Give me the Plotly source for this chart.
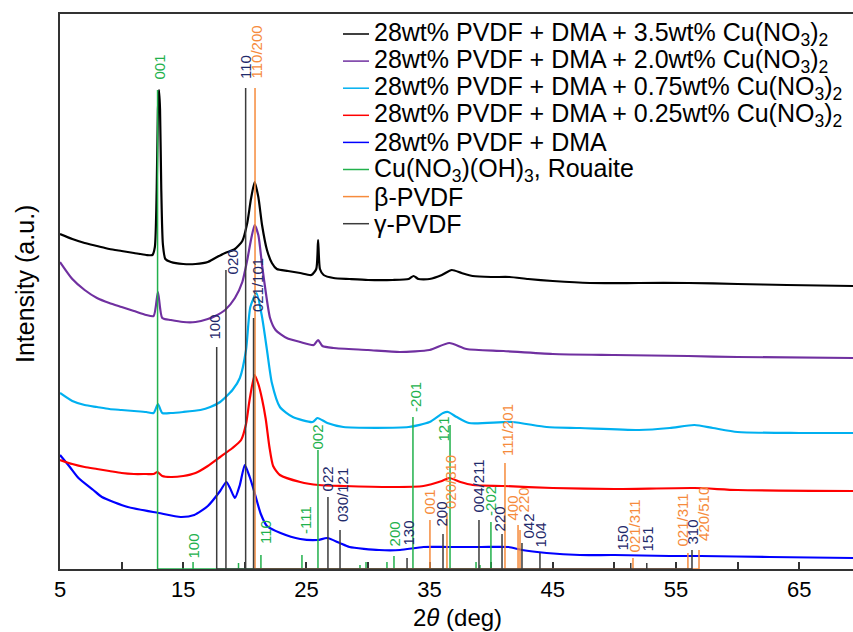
import plotly.graph_objects as go

# ---------------- spectra (2theta in deg, intensity a.u.) ----------------
x_35 = [5.0, 6.0, 7.0, 8.0, 9.0, 10.0, 11.0, 12.0, 12.5, 12.7, 12.85, 12.95, 13.04, 13.12, 13.22, 13.35, 13.55,
        14.0, 15.0, 16.0, 17.0, 17.6, 18.4, 19.2, 19.8, 20.2, 20.5, 20.8, 21.1, 21.4, 21.8, 22.2, 22.6, 23.5,
        24.5, 25.4, 25.8, 25.95, 26.1, 26.4, 27.2, 28.5, 30.0, 32.0, 33.3, 33.7, 34.1, 35.0, 36.0, 36.8, 37.6,
        38.5, 40.0, 41.5, 43.0, 45.0, 48.0, 52.0, 56.0, 60.0, 64.0, 69.4]
y_35 = [335, 330, 326, 323, 320, 318, 316, 314, 314, 322, 380, 460, 479, 460, 380, 325, 310,
        307, 305, 305, 307, 311, 316, 320, 328, 346, 370, 387, 372, 344, 319, 306, 300, 298,
        296, 294, 300, 329, 300, 294, 291, 290, 289, 289, 290, 293, 290, 290, 294, 299, 296,
        293, 292, 292, 290, 288, 286, 286, 286, 285, 284, 283]

x_20 = [5.0, 6.0, 7.0, 8.0, 9.0, 10.0, 11.0, 12.0, 12.6, 12.95, 13.3, 14.0, 15.0, 16.0, 17.0, 17.6, 18.4,
        19.2, 19.8, 20.2, 20.5, 20.8, 21.1, 21.4, 21.7, 22.05, 22.5, 23.4, 24.5, 25.6, 25.95, 26.3, 27.2,
        30.0, 32.6, 35.0, 36.6, 38.0, 41.0, 45.0, 50.0, 56.0, 60.0, 69.4]
y_20 = [307, 290, 279, 271, 266, 262, 258, 254, 253, 277, 251, 249, 247, 247, 250, 253, 259,
        271, 287, 309, 329, 344, 334, 304, 277, 251, 239, 231, 227, 224, 229, 223, 221,
        219, 217, 219, 226, 220, 218, 215, 214, 213, 212, 211]

x_075 = [5.0, 6.0, 7.0, 8.0, 9.0, 10.0, 11.0, 12.0, 12.6, 12.95, 13.3, 14.0, 15.0, 16.4, 17.2, 18.0, 19.0,
         19.6, 20.1, 20.45, 20.95, 21.4, 21.8, 22.2, 22.85, 23.9, 25.5, 25.9, 26.7, 28.0, 33.3, 35.0, 36.1,
         36.5, 37.2, 38.2, 41.7, 44.5, 47.2, 52.0, 54.5, 56.5, 58.0, 60.0, 65.0, 69.4]
y_075 = [176, 168, 164, 162, 160, 159, 158, 157, 156, 165, 156, 156, 157, 159, 162, 167, 179,
         191, 219, 262, 276, 252, 219, 186, 162, 152, 147, 151, 146, 142, 142, 147, 156,
         157, 152, 146, 147, 142, 141, 139, 141, 144, 141, 137, 136, 136]

x_025 = [5.0, 6.0, 7.0, 8.0, 9.0, 10.0, 11.0, 12.0, 12.6, 12.9, 13.3, 14.0, 15.0, 16.0, 17.0, 18.0, 19.0,
         19.7, 20.1, 20.4, 20.8, 21.1, 21.4, 21.7, 22.0, 22.3, 22.85, 24.5, 26.0, 28.0, 32.0, 34.5, 36.0,
         36.6, 37.5, 38.5, 41.0, 45.0, 50.0, 56.5, 60.0, 69.4]
y_025 = [109, 105, 102, 100, 98, 96, 95, 95, 95, 97, 93, 92, 93, 96, 103, 112, 121,
         129, 145, 170, 194, 185, 170, 150, 122, 103, 94, 87, 84, 83, 82, 83, 88,
         91, 87, 84, 83, 81, 80, 81, 79, 78]

x_0 = [5.0, 5.8, 6.5, 7.7, 8.4, 10.5, 13.0, 14.8, 15.9, 17.0, 18.0, 18.5, 18.8, 19.2, 19.6, 20.0, 20.4,
       20.8, 21.3, 21.8, 22.9, 24.5, 25.9, 26.7, 27.7, 28.5, 30.9, 32.6, 34.5, 36.5, 39.2, 41.4, 42.5,
       44.5, 47.2, 50.0, 54.5, 57.0, 62.6, 69.4]
y_0 = [114, 102, 91, 79, 72, 62, 56, 52, 54, 63, 78, 87, 81, 71, 84, 104, 92,
       76, 55, 43, 36, 30, 29, 31, 26, 22, 19, 19, 22, 22, 22, 22, 19,
       16, 14, 14, 13, 13, 12, 11]

series_names = ["28wt% PVDF + DMA + 3.5wt% Cu(NO<sub>3</sub>)<sub>2</sub>",
                "28wt% PVDF + DMA + 2.0wt% Cu(NO<sub>3</sub>)<sub>2</sub>",
                "28wt% PVDF + DMA + 0.75wt% Cu(NO<sub>3</sub>)<sub>2</sub>",
                "28wt% PVDF + DMA + 0.25wt% Cu(NO<sub>3</sub>)<sub>2</sub>",
                "28wt% PVDF + DMA"]
ref_names = ["Cu(NO<sub>3</sub>)(OH)<sub>3</sub>, Rouaite", "β-PVDF", "γ-PVDF"]

# ---------------- reference patterns ----------------
rou_pos = [12.92, 15.80, 19.49, 21.31, 24.64, 25.94, 29.35, 29.84, 31.54, 32.11, 33.65, 36.66, 38.77, 39.09, 39.98]
rou_int = [479, 7, 6, 14, 14, 119, 4, 7, 7, 13, 152, 144, 7, 4, 47]
rou_lab = ["001", "100", "110", "-111", "002", "200", "-201", "121", "-202"]
rou_lab_x = [13.04, 15.80, 21.64, 24.89, 25.94, 32.19, 33.81, 36.09, 39.90]
rou_lab_y = [488, 9, 24, 34, 119, 22, 156, 126, 52]

beta_pos = [20.83, 35.03, 36.41, 41.12, 42.18, 42.34, 51.51, 55.97, 56.87]
beta_int = [481, 49, 56, 106, 44, 39, 11, 16, 19]
beta_lab = ["110/200", "001", "020/310", "111/201", "400", "220", "021/311", "021/311", "420/510"]
beta_lab_x = [20.91, 35.03, 36.66, 41.28, 41.69, 42.66, 51.67, 55.57, 57.19]
beta_lab_y = [489, 54, 59, 112, 47, 56, 16, 22, 27]

gam_pos = [17.72, 18.47, 20.07, 20.71, 26.75, 27.73, 33.17, 36.09, 39.01, 40.88, 42.50, 43.96, 51.33, 52.63, 56.30]
gam_int = [222, 299, 481, 251, 72, 39, 11, 35, 49, 35, 26, 16, 6, 6, 19]
gam_lab = ["100", "020", "110", "021/101", "022", "030/121", "130", "200", "004/211", "220", "042", "104",
           "150", "151", "310"]
gam_lab_x = [17.58, 19.04, 20.02, 21.0, 26.75, 27.89, 33.25, 35.93, 39.01, 40.71, 42.99, 44.04, 50.62, 52.65, 56.38]
gam_lab_y = [229, 294, 489, 256, 77, 46, 22, 41, 56, 37, 29, 21, 17, 16, 24]

tick_vals = [5, 10, 15, 20, 25, 30, 35, 40, 45, 50, 55, 60, 65]
tick_text = ["5", "", "15", "", "25", "", "35", "", "45", "", "55", "", "65"]

# ---------------- styles ----------------
curve_colors = ["#000000", "#7030a0", "#00b0f0", "#ff0000", "#0000ff"]
ref_line_colors = ["#22b14c", "#f68b3c", "#3c3c3c"]
ref_text_colors = ["#22b14c", "#f68b3c", "#1f2a6b"]
FONT = "Liberation Sans, Arial, Helvetica, sans-serif"

fig = go.Figure()

curves = [(x_0, y_0, 4), (x_025, y_025, 3), (x_075, y_075, 2), (x_20, y_20, 1), (x_35, y_35, 0)]
for xs, ys, i in curves:
    fig.add_trace(go.Scatter(x=xs, y=ys, mode="lines", name=series_names[i],
                             line=dict(color=curve_colors[i], width=2.2, shape="spline", smoothing=0.6),
                             hoverinfo="skip"))


def stick_trace(pos, inten, color, name):
    xs, ys = [], []
    for p, h in sorted(zip(pos, inten)):
        xs += [p, p, p]
        ys += [0, h, 0]
    return go.Scatter(x=xs, y=ys, mode="lines", name=name, line=dict(color=color, width=1.5),
                      hoverinfo="skip")


fig.add_trace(stick_trace(rou_pos, rou_int, ref_line_colors[0], ref_names[0]))
fig.add_trace(stick_trace(beta_pos, beta_int, ref_line_colors[1], ref_names[1]))
fig.add_trace(stick_trace(gam_pos, gam_int, ref_line_colors[2], ref_names[2]))

annotations = []
for labs, lx, ly, col in [(rou_lab, rou_lab_x, rou_lab_y, ref_text_colors[0]),
                          (beta_lab, beta_lab_x, beta_lab_y, ref_text_colors[1]),
                          (gam_lab, gam_lab_x, gam_lab_y, ref_text_colors[2])]:
    for t, x, y in zip(labs, lx, ly):
        annotations.append(dict(x=x, y=y, xref="x", yref="y", text=t, showarrow=False, textangle=-90,
                                xanchor="center", yanchor="bottom", borderpad=0,
                                font=dict(family=FONT, size=15, color=col)))

# manual legend
PX0, PY0, PW, PH = 60, 14, 793, 555
legend_labels = series_names + ref_names
legend_colors = curve_colors + ref_line_colors
shapes = []
for k, (lab, col) in enumerate(zip(legend_labels, legend_colors)):
    py = 34 + 27.1 * k
    yp = (PY0 + PH - py) / PH
    shapes.append(dict(type="line", xref="paper", yref="paper",
                       x0=(343 - PX0) / PW, x1=(369 - PX0) / PW, y0=yp, y1=yp,
                       line=dict(color=col, width=1.5)))
    annotations.append(dict(x=(372 - PX0) / PW, y=yp, xref="paper", yref="paper", text=lab,
                            showarrow=False, xanchor="left", yanchor="middle",
                            font=dict(family=FONT, size=25, color="black")))

annotations.append(dict(x=(25 - PX0) / PW, y=(PY0 + PH - 284) / PH, xref="paper", yref="paper",
                        text="Intensity (a.u.)", showarrow=False, textangle=-90,
                        xanchor="center", yanchor="middle", font=dict(family=FONT, size=25, color="black")))
annotations.append(dict(x=(457 - PX0) / PW, y=(PY0 + PH - 617) / PH, xref="paper", yref="paper",
                        text="2<i>θ</i> (deg)", showarrow=False,
                        xanchor="center", yanchor="middle", font=dict(family=FONT, size=24, color="black")))

fig.update_layout(
    width=853, height=632,
    margin=dict(l=60, r=0, t=14, b=63),
    plot_bgcolor="white", paper_bgcolor="white",
    showlegend=False,
    font=dict(family=FONT, color="black"),
    annotations=annotations,
    shapes=shapes,
    xaxis=dict(range=[5, 69.37], showline=True, linecolor="#333333", linewidth=1.5, mirror=True,
               ticks="inside", ticklen=7, tickwidth=1.5, tickcolor="#333333",
               tickvals=tick_vals, ticktext=tick_text, tickfont=dict(family=FONT, size=22),
               showgrid=False, zeroline=False, layer="below traces"),
    yaxis=dict(range=[0, 555], showline=True, linecolor="#333333", linewidth=1.5, mirror=False,
               ticks="", showticklabels=False, showgrid=False, zeroline=False, layer="below traces"),
)

fig.write_html("out.html")
